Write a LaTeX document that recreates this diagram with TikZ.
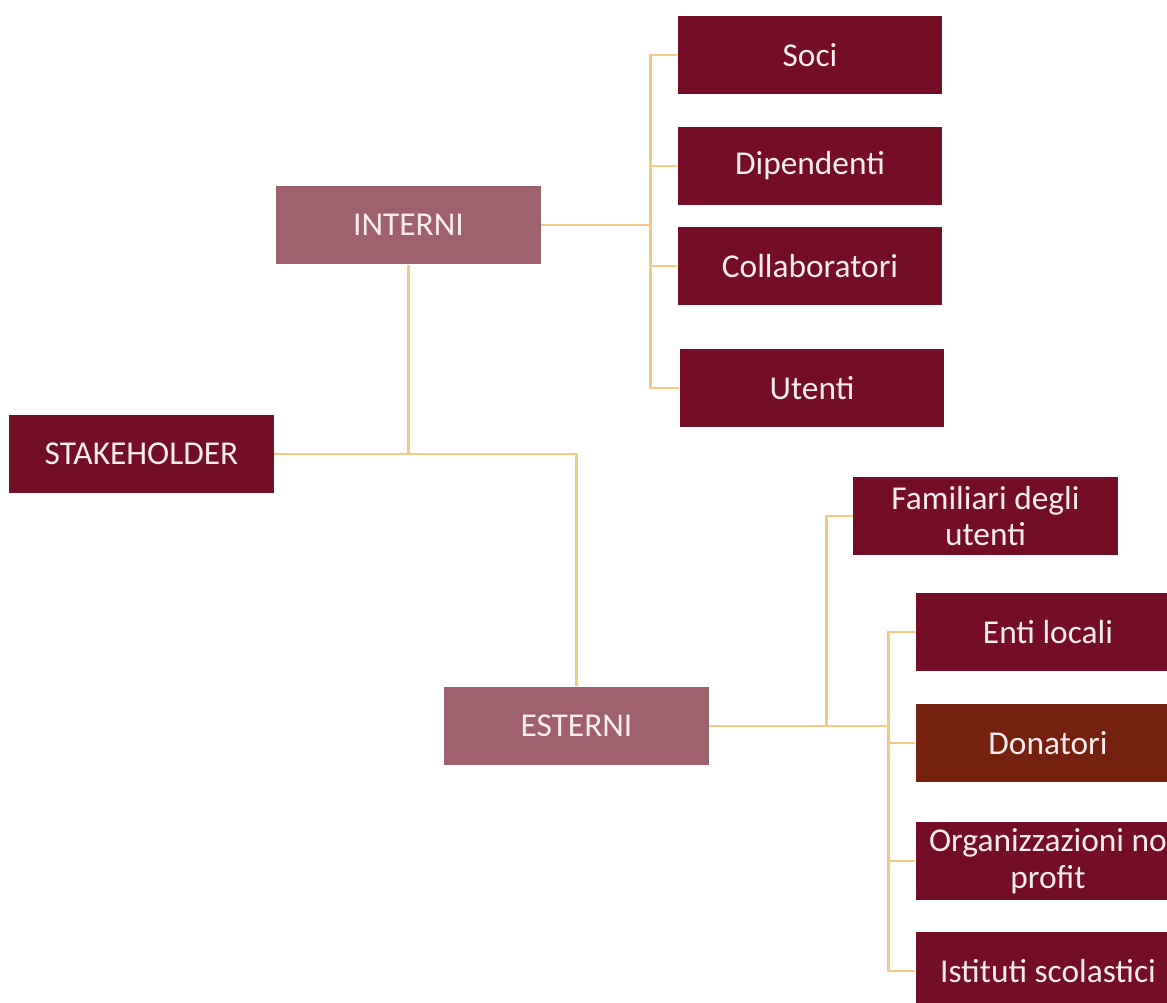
\documentclass[tikz,border=0pt]{standalone}
\usepackage{fontspec}
\setmainfont{Carlito}
\usetikzlibrary{positioning,calc}
\definecolor{bordeaux}{RGB}{115,14,38}
\definecolor{malva}{RGB}{160,97,110}
\definecolor{ruggine}{RGB}{117,33,16}
\definecolor{ocra}{RGB}{246,201,133}
\definecolor{rosato}{RGB}{252,236,240}
\tikzset{
    basebox/.style={draw=none, text=rosato, minimum width=5.3cm, minimum height=1.58cm,
        align=center, inner sep=0pt, font=\fontsize{19}{21}\selectfont},
    leafbox/.style={basebox, fill=bordeaux},
    groupbox/.style={basebox, fill=malva},
    donorbox/.style={basebox, fill=ruggine},
    branch/.style={draw=ocra, line width=1.5pt}
}

\begin{document}
\begin{tikzpicture}[x=0.02cm,y=-0.02cm]
	\clip (0,0) rectangle (1167,1003);
	% radice e gruppi
	\node[leafbox] (stake) at (141.5,454) {STAKEHOLDER};
	\node[groupbox] (interni) at (408.5,225) {INTERNI};
	\node[groupbox] (esterni) at (576.5,726) {ESTERNI};
	% interni
	\node[leafbox] (soci) at (810,55) {Soci};
	\node[leafbox] (dip) at (810,166) {Dipendenti};
	\node[leafbox] (coll) at (810,266) {Collaboratori};
	\node[leafbox] (utenti) at (812,388) {Utenti};
	% esterni
	\node[leafbox] (fam) at (985.5,516) {Familiari degli\\utenti};
	\node[leafbox] (enti) at (1048,632) {Enti locali};
	\node[donorbox] (donatori) at (1048,743) {Donatori};
	\node[leafbox] (org) at (1048,861) {Organizzazioni no\\profit};
	\node[leafbox] (ist) at (1048,971) {Istituti scolastici};
	% connettori
	\draw[branch] (stake.east) -| (esterni.north);
	\draw[branch] (interni.south) -- (interni.south |- stake.east);
	\draw[branch] (interni.east) -- ++(109,0) coordinate (ibus);
	\foreach \n in {soci,dip,coll,utenti}
		\draw[branch] (ibus) |- (\n.west);
	\draw[branch] (esterni.east) -- ++(179,0) coordinate (ebus);
	\coordinate (fbus) at ($(esterni.east)+(117,0)$);
	\draw[branch] (fbus) |- (fam.west);
	\foreach \n in {enti,donatori,org,ist}
		\draw[branch] (ebus) |- (\n.west);
\end{tikzpicture}
\end{document}
